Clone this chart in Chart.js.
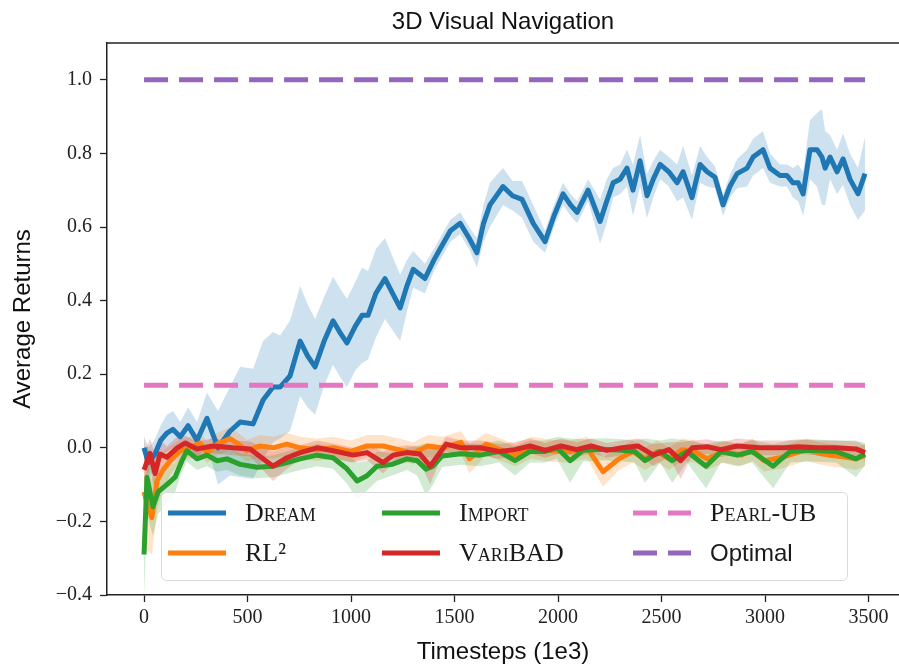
<!DOCTYPE html>
<html>
<head>
<meta charset="utf-8">
<script src="https://cdn.jsdelivr.net/npm/chart.js@4.4.1/dist/chart.umd.min.js"></script>
<style>
  body { margin: 0; background: #fff; }
  #wrap { width: 899px; height: 668px; }
</style>
</head>
<body>
<div id="wrap"><canvas id="navChart"></canvas></div>
<script>
// values (x in 1e3 timesteps)
const chartTitle = '3D Visual Navigation';
const xTicks = [0, 500, 1000, 1500, 2000, 2500, 3000, 3500];
const yTicks = [-0.4, -0.2, 0.0, 0.2, 0.4, 0.6, 0.8, 1.0];

const dreamT = [0, 20, 50, 80, 110, 140, 175, 213, 256, 304,
  357, 415, 464, 527, 575, 623, 657, 705, 754, 790,
  826, 870, 913, 950, 980, 1020, 1053, 1082, 1120, 1164,
  1200, 1237, 1270, 1300, 1357, 1400, 1430, 1480, 1527, 1570,
  1608, 1640, 1671, 1734, 1780, 1826, 1880, 1937, 1980, 2024,
  2060, 2092, 2145, 2203, 2235, 2266, 2300, 2333, 2362, 2396,
  2430, 2460, 2493, 2535, 2575, 2604, 2647, 2686, 2720, 2758,
  2797, 2830, 2865, 2913, 2942, 2990, 3024, 3072, 3105, 3135,
  3160, 3184, 3217, 3251, 3275, 3290, 3314, 3348, 3377, 3410,
  3449, 3483];
const dreamMean = [0.0, -0.04, -0.02, 0.02, 0.04, 0.05, 0.03, 0.06, 0.02, 0.08,
  0.0, 0.045, 0.07, 0.065, 0.13, 0.165, 0.165, 0.195, 0.29, 0.25,
  0.22, 0.29, 0.345, 0.31, 0.285, 0.33, 0.36, 0.36, 0.42, 0.46,
  0.42, 0.38, 0.44, 0.485, 0.46, 0.51, 0.54, 0.59, 0.61, 0.57,
  0.53, 0.61, 0.66, 0.71, 0.685, 0.675, 0.61, 0.56, 0.63, 0.69,
  0.66, 0.64, 0.70, 0.615, 0.67, 0.72, 0.73, 0.76, 0.70, 0.78,
  0.685, 0.73, 0.77, 0.75, 0.72, 0.75, 0.68, 0.77, 0.75, 0.735,
  0.66, 0.71, 0.745, 0.76, 0.79, 0.81, 0.76, 0.74, 0.74, 0.72,
  0.72, 0.69, 0.81, 0.81, 0.79, 0.76, 0.79, 0.75, 0.785, 0.73,
  0.69, 0.745];
const dreamSpread = [0.03, 0.04, 0.04, 0.04, 0.05, 0.05, 0.04, 0.05, 0.05, 0.07,
  0.1, 0.12, 0.15, 0.15, 0.16, 0.15, 0.14, 0.15, 0.15, 0.14,
  0.13, 0.12, 0.12, 0.12, 0.12, 0.12, 0.13, 0.12, 0.12, 0.11,
  0.1, 0.09, 0.07, 0.05, 0.04, 0.03, 0.03, 0.03, 0.03, 0.03,
  0.04, 0.05, 0.06, 0.05, 0.04, 0.05, 0.05, 0.03, 0.03, 0.03,
  0.03, 0.03, 0.03, 0.06, 0.06, 0.04, 0.04, 0.05, 0.07, 0.07,
  0.06, 0.05, 0.04, 0.04, 0.05, 0.07, 0.06, 0.05, 0.04, 0.03,
  0.03, 0.03, 0.04, 0.05, 0.05, 0.05, 0.04, 0.03, 0.03, 0.04,
  0.05, 0.06, 0.08, 0.1, 0.13, 0.1, 0.06, 0.06, 0.07, 0.07,
  0.07, 0.1];

const rl2T = [0, 19, 38, 63, 92, 126, 174, 222, 270, 304,
  353, 415, 449, 497, 560, 623, 690, 754, 830, 913,
  1000, 1077, 1155, 1230, 1300, 1370, 1440, 1531, 1572, 1652,
  1720, 1792, 1870, 1966, 2060, 2140, 2217, 2294, 2360, 2420,
  2480, 2536, 2600, 2660, 2720, 2800, 2884, 2940, 2995, 3090,
  3198, 3260, 3313, 3385, 3439, 3483];
const rl2Mean = [-0.12, -0.16, -0.19, -0.09, -0.06, -0.035, -0.008, 0.0, 0.013, -0.013,
  0.01, 0.025, 0.013, -0.008, 0.005, 0.0, 0.01, 0.0, -0.005, 0.0,
  -0.01, 0.005, 0.005, -0.005, -0.015, 0.005, 0.0, 0.015, -0.03, 0.01,
  -0.005, -0.02, 0.0, -0.008, -0.01, 0.0, -0.065, -0.03, -0.01, -0.03,
  -0.01, -0.03, -0.005, -0.01, -0.03, -0.01, -0.02, -0.005, -0.035, -0.025,
  -0.005, -0.015, -0.02, -0.025, -0.03, -0.02];
const rl2Spread = [0.15, 0.12, 0.1, 0.08, 0.05, 0.04, 0.03, 0.03, 0.03, 0.03,
  0.03, 0.03, 0.03, 0.03, 0.03, 0.03, 0.03, 0.03, 0.03, 0.03,
  0.03, 0.03, 0.03, 0.03, 0.03, 0.03, 0.03, 0.03, 0.04, 0.03,
  0.03, 0.03, 0.03, 0.03, 0.03, 0.03, 0.04, 0.03, 0.03, 0.03,
  0.03, 0.03, 0.03, 0.03, 0.03, 0.03, 0.03, 0.03, 0.03, 0.03,
  0.03, 0.03, 0.03, 0.03, 0.03, 0.03];

const importT = [0, 14, 43, 68, 110, 150, 183, 207, 256, 304,
  353, 401, 464, 546, 623, 690, 754, 836, 913, 980,
  1029, 1077, 1125, 1198, 1270, 1319, 1362, 1396, 1440, 1531,
  1623, 1715, 1792, 1865, 1937, 1995, 2058, 2121, 2217, 2309,
  2370, 2420, 2493, 2551, 2623, 2715, 2787, 2865, 2937, 3039,
  3121, 3217, 3343, 3439, 3483];
const importMean = [-0.29, -0.08, -0.16, -0.12, -0.10, -0.08, -0.035, -0.008, -0.03, -0.02,
  -0.035, -0.03, -0.045, -0.053, -0.05, -0.04, -0.03, -0.02, -0.027, -0.057,
  -0.09, -0.076, -0.05, -0.045, -0.03, -0.035, -0.058, -0.05, -0.022, -0.016,
  -0.02, -0.01, -0.035, -0.01, -0.01, 0.0, -0.035, -0.007, -0.004, -0.007,
  -0.01, -0.035, -0.01, -0.035, -0.01, -0.05, -0.01, -0.02, -0.01, -0.05,
  -0.01, -0.007, -0.01, -0.03, -0.017];
const importSpread = [0.12, 0.1, 0.08, 0.06, 0.05, 0.04, 0.03, 0.03, 0.03, 0.03,
  0.03, 0.03, 0.03, 0.03, 0.03, 0.03, 0.03, 0.03, 0.03, 0.04,
  0.05, 0.04, 0.04, 0.03, 0.03, 0.04, 0.07, 0.05, 0.03, 0.03,
  0.03, 0.03, 0.04, 0.03, 0.03, 0.03, 0.06, 0.03, 0.03, 0.03,
  0.03, 0.06, 0.03, 0.06, 0.03, 0.06, 0.03, 0.03, 0.03, 0.06,
  0.03, 0.03, 0.03, 0.05, 0.03];

const varibadT = [0, 29, 53, 77, 110, 160, 198, 256, 333, 430,
  512, 623, 690, 754, 836, 913, 1010, 1077, 1155, 1203,
  1270, 1333, 1382, 1430, 1459, 1531, 1623, 1715, 1790, 1865,
  1937, 2014, 2090, 2160, 2235, 2310, 2386, 2460, 2536, 2592,
  2648, 2720, 2787, 2865, 2975, 3090, 3160, 3255, 3343, 3439,
  3483];
const varibadMean = [-0.06, -0.015, -0.07, -0.017, -0.026, 0.0, 0.013, -0.003, 0.005, 0.0,
  -0.003, -0.05, -0.027, -0.013, 0.0, -0.008, -0.02, -0.013, -0.04, -0.02,
  -0.013, -0.017, -0.05, -0.013, 0.01, 0.0, 0.0, -0.01, -0.005, 0.005,
  -0.007, 0.005, -0.005, 0.005, -0.007, 0.0, 0.005, -0.02, -0.005, -0.035,
  0.0, 0.003, -0.005, 0.005, 0.0, 0.0, 0.003, 0.0, 0.0, -0.003,
  -0.013];
const varibadSpread = [0.04, 0.04, 0.05, 0.04, 0.03, 0.03, 0.02, 0.02, 0.02, 0.02,
  0.02, 0.04, 0.03, 0.02, 0.02, 0.02, 0.02, 0.02, 0.03, 0.02,
  0.02, 0.02, 0.05, 0.02, 0.02, 0.02, 0.02, 0.02, 0.02, 0.02,
  0.02, 0.02, 0.02, 0.02, 0.02, 0.02, 0.02, 0.03, 0.02, 0.05,
  0.02, 0.02, 0.02, 0.02, 0.02, 0.02, 0.02, 0.02, 0.02, 0.02,
  0.02];

// reference levels
const refT = [0, 3483];
const pearlValue = 0.17;
const optimalValue = 1.0;

const blue = '#1f77b4', orange = '#ff7f0e', green = '#2ca02c', red = '#d62728';
const pink = '#e377c2', purple = '#9467bd';

function pts(t, v) { return t.map((x, i) => ({ x: x, y: v[i] })); }
function band(t, v, s, sign) { return t.map((x, i) => ({ x: x, y: v[i] + sign * s[i] })); }
function alpha(hex, a) {
  const n = parseInt(hex.slice(1), 16);
  return `rgba(${n >> 16},${(n >> 8) & 255},${n & 255},${a})`;
}

const lineBase = { pointRadius: 0, borderWidth: 5, tension: 0, fill: false, borderJoinStyle: 'round' };
const bandBase = { pointRadius: 0, borderWidth: 0, tension: 0 };

const datasets = [
  { ...lineBase, label: 'Optimal', data: pts(refT, [optimalValue, optimalValue]), borderColor: purple, borderDash: [24, 11] },
  { ...lineBase, label: 'Pearl-UB', data: pts(refT, [pearlValue, pearlValue]), borderColor: pink, borderDash: [24, 11] },
  { ...lineBase, label: 'VariBAD', data: pts(varibadT, varibadMean), borderColor: red },
  { ...lineBase, label: 'Import', data: pts(importT, importMean), borderColor: green },
  { ...lineBase, label: 'RL²', data: pts(rl2T, rl2Mean), borderColor: orange },
  { ...lineBase, label: 'Dream', data: pts(dreamT, dreamMean), borderColor: blue },
];
// shaded bands (lower + upper filled to lower)
[[varibadT, varibadMean, varibadSpread, red],
 [importT, importMean, importSpread, green],
 [rl2T, rl2Mean, rl2Spread, orange],
 [dreamT, dreamMean, dreamSpread, blue]].forEach(([t, v, s, c]) => {
  const lo = datasets.length;
  datasets.push({ ...bandBase, data: band(t, v, s, -1), fill: false, backgroundColor: 'transparent' });
  datasets.push({ ...bandBase, data: band(t, v, s, 1), fill: lo, backgroundColor: alpha(c, 0.22) });
});

// legend laid out like the matplotlib one (3 columns, 2 rows)
const legendOrder = ['Dream', 'RL²', 'Import', 'VariBAD', 'Pearl-UB', 'Optimal'];
const legendCols = [168, 382, 633];
const legendRows = [513, 553];

const boxLegend = {
  id: 'boxLegend',
  afterDraw(chart) {
    const ctx = chart.ctx;
    ctx.save();
    ctx.beginPath();
    ctx.roundRect(161.5, 492.5, 686, 88, 5);
    ctx.fillStyle = 'rgba(255,255,255,0.85)';
    ctx.fill();
    ctx.strokeStyle = '#d9d9d9';
    ctx.lineWidth = 1;
    ctx.stroke();
    legendOrder.forEach((label, i) => {
      const ds = chart.data.datasets.find(d => d.label === label);
      const x0 = legendCols[Math.floor(i / 2)];
      const y = legendRows[i % 2];
      ctx.strokeStyle = ds.borderColor;
      ctx.lineWidth = ds.borderWidth;
      ctx.setLineDash(ds.borderDash || []);
      ctx.beginPath();
      ctx.moveTo(x0, y);
      ctx.lineTo(x0 + 58, y);
      ctx.stroke();
      ctx.setLineDash([]);
      ctx.font = label === 'Optimal' ? '24px "Liberation Sans"' : 'small-caps 26px "Liberation Serif"';
      ctx.fillStyle = '#1a1a1a';
      ctx.textBaseline = 'middle';
      ctx.textAlign = 'left';
      ctx.fillText(label, x0 + 77, y + 1);
    });
    ctx.restore();
  }
};

// top spine and title centred over the plot area, as matplotlib does
const frameAndTitle = {
  id: 'frameAndTitle',
  afterDatasetsDraw(chart) {
    const { ctx, chartArea: a } = chart;
    ctx.save();
    ctx.strokeStyle = '#222';
    ctx.lineWidth = 1.5;
    ctx.beginPath();
    ctx.moveTo(a.left, a.top);
    ctx.lineTo(a.right, a.top);
    ctx.stroke();
    ctx.font = '24px "Liberation Sans"';
    ctx.fillStyle = '#111';
    ctx.textAlign = 'center';
    ctx.textBaseline = 'middle';
    ctx.fillText(chartTitle, (a.left + a.right) / 2, 22);
    ctx.restore();
  }
};

new Chart(document.getElementById('navChart'), {
  type: 'line',
  data: { datasets: datasets },
  plugins: [frameAndTitle, boxLegend],
  options: {
    responsive: true,
    maintainAspectRatio: false,
    animation: false,
    layout: { padding: { top: 43, left: 0, right: 0, bottom: 0 } },
    plugins: {
      legend: { display: false },
      tooltip: { enabled: false },
      title: { display: false }
    },
    scales: {
      x: {
        type: 'linear',
        min: -179,
        max: 3647,
        afterBuildTicks: s => { s.ticks = xTicks.map(v => ({ value: v })); },
        afterFit: s => { s.height = 73; },
        grid: { drawOnChartArea: false, tickLength: 7, tickColor: '#222', tickWidth: 1.3 },
        border: { display: true, color: '#222', width: 1.5 },
        ticks: {
          color: '#222',
          font: { family: 'Liberation Serif', size: 20 },
          padding: 4,
          maxRotation: 0,
          autoSkip: false,
          callback: v => String(v)
        },
        title: {
          display: true,
          text: 'Timesteps (1e3)',
          color: '#111',
          font: { family: 'Liberation Sans', size: 24 },
          padding: { top: 0, bottom: 1 }
        }
      },
      y: {
        min: -0.4,
        max: 1.1,
        afterBuildTicks: s => { s.ticks = yTicks.map(v => ({ value: v })); },
        afterFit: s => { s.width = 107; },
        grid: { drawOnChartArea: false, tickLength: 7, tickColor: '#222', tickWidth: 1.3 },
        border: { display: true, color: '#222', width: 1.5 },
        ticks: {
          color: '#222',
          font: { family: 'Liberation Serif', size: 20 },
          padding: 8,
          callback: v => v.toFixed(1).replace('-', '−')
        },
        title: {
          display: true,
          text: 'Average Returns',
          color: '#111',
          font: { family: 'Liberation Sans', size: 24 },
          padding: { top: 9, bottom: 0 }
        }
      }
    }
  }
});
</script>
</body>
</html>
